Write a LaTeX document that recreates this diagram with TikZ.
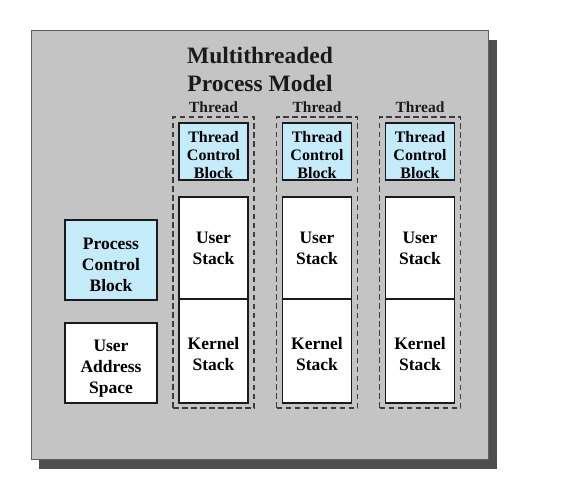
\documentclass[tikz,border=0pt]{standalone}
\usepackage{fontspec}
\setmainfont{Liberation Serif}
\usetikzlibrary{positioning}
\usepackage{xcolor}
\definecolor{panelgray}{HTML}{C4C4C4}
\definecolor{shadowgray}{HTML}{4F4F4F}
\definecolor{cyanblock}{HTML}{C4EBF9}
\definecolor{ink}{HTML}{1A1A1A}
% text lowered inside its box, the box itself stays put
\newcommand{\lowtext}[2]{\raisebox{-#1}[\height][\depth]{\begin{tabular}{@{}c@{}}#2\end{tabular}}}
\tikzset{
  block/.style={draw=ink, line width=1.2pt, align=center, fill=white, inner sep=0pt, outer sep=0pt,
    font=\bfseries\fontsize{17.5}{21}\selectfont},
  tcbbox/.style={block, fill=cyanblock, minimum width=69, minimum height=57, font=\bfseries\fontsize{16}{18}\selectfont},
  stackbox/.style={block, minimum width=69},
  procbox/.style={block, minimum width=92, minimum height=80},
  threadbox/.style={draw=ink!85, dash pattern=on 5.5pt off 3.5pt, line width=1.1pt, minimum width=81, minimum height=291, inner sep=0pt},
  threadlabel/.style={font=\bfseries\fontsize{15.5}{18}\selectfont, text=ink}
}

\begin{document}
\begin{tikzpicture}[x=1pt, y=-1pt]
  \useasboundingbox (0,0) rectangle (562,492);
  % panel with its shadow
  \fill[shadowgray] (39,40) rectangle (497,469);
  \draw[ink!70, fill=panelgray, line width=0.8pt] (31,30) rectangle (488,459);
  \node[align=center, font=\bfseries\fontsize{23.5}{28}\selectfont, text=ink] (title) at (260,69) {Multithreaded\\Process Model};

  \node[procbox, fill=cyanblock] (pcb) at (111,260) {\lowtext{6pt}{Process\\Control\\Block}};
  \node[procbox] (uas) at (111,363) {\lowtext{5.5pt}{User\\Address\\Space}};

  % first thread
  \node[threadbox] (th1) at (213.5,262.5) {};
  \node[threadlabel] (lab1) at (213.5,107.5) {Thread};
  \node[tcbbox] (tcb1) at (213.5,151.5) {\lowtext{5pt}{Thread\\Control\\Block}};
  \node[stackbox, minimum height=102] (us1) at (213.5,248) {\lowtext{2pt}{User\\Stack}};
  \node[stackbox, minimum height=104] (ks1) at (213.5,351) {\lowtext{5pt}{Kernel\\Stack}};

  % second thread
  \node[threadbox] (th2) at (317,262.5) {};
  \node[threadlabel] (lab2) at (317,107.5) {Thread};
  \node[tcbbox] (tcb2) at (317,151.5) {\lowtext{5pt}{Thread\\Control\\Block}};
  \node[stackbox, minimum height=102] (us2) at (317,248) {\lowtext{2pt}{User\\Stack}};
  \node[stackbox, minimum height=104] (ks2) at (317,351) {\lowtext{5pt}{Kernel\\Stack}};

  % third thread
  \node[threadbox] (th3) at (420,262.5) {};
  \node[threadlabel] (lab3) at (420,107.5) {Thread};
  \node[tcbbox] (tcb3) at (420,151.5) {\lowtext{5pt}{Thread\\Control\\Block}};
  \node[stackbox, minimum height=102] (us3) at (420,248) {\lowtext{2pt}{User\\Stack}};
  \node[stackbox, minimum height=104] (ks3) at (420,351) {\lowtext{5pt}{Kernel\\Stack}};
\end{tikzpicture}
\end{document}
